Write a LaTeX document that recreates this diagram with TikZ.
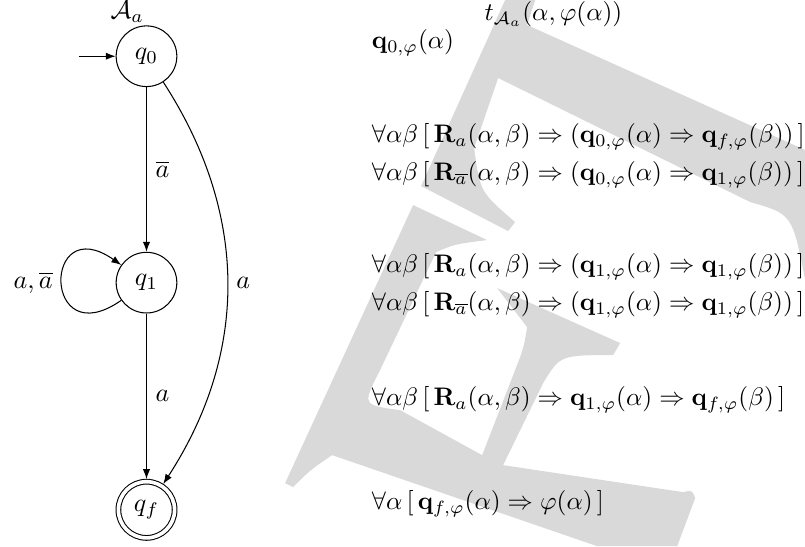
\documentclass[tikz,border=0pt]{standalone}
\usepackage{amsmath,amssymb}
\usetikzlibrary{arrows.meta, positioning}

\begin{document}
\begin{tikzpicture}[
    state/.style={circle, draw, minimum size=0.82cm, inner sep=0pt},
    final/.style={circle, draw, double, double distance=1.4pt, minimum size=0.76cm, inner sep=0pt, outer sep=1pt},
    arrow/.style={-{Latex[length=3.8pt, width=2.8pt]}},
    formula/.style={anchor=west, scale=0.975, transform shape},
    wmfill/.style={fill=black!15}
]
    \useasboundingbox (0,0) rectangle (10.88,-7.38);

    % Gray letter shapes in the background (pixel units)
    \begin{scope}[x=0.013514cm, y=-0.013514cm]
        \fill [wmfill] (505,0) -- (535,0) -- (527,25) -- (805,150) -- (805,280)
            .. controls (792,214) .. (750,202) -- (498,78) -- (474,148)
            .. controls (480,192) .. (515,222) -- (508,231) -- (421,186) -- cycle;
        \fill [wmfill] (413,205) -- (487,240) .. controls (455,244) .. (436,252)
            -- (380,370) .. controls (362,405) .. (400,410) -- (482,455)
            -- (520,357) .. controls (524,345) .. (527,327) -- (497,288) -- (620,343) -- (613,355)
            .. controls (560,355) .. (543,383) -- (503,465) -- (683,492)
            .. controls (692,490) .. (695,498) -- (677,546) -- (597,546) -- (332,455)
            .. controls (310,470) .. (293,487) -- (285,483) -- cycle;
    \end{scope}

    % Automaton
    \node (q0) [state] at (1.98,-0.76) {$q_0$};
    \node (q1) [state, on grid, below=3.06cm of q0] {$q_1$};
    \node (qf) [final, on grid, below=3.07cm of q1] {$q_f$};
    \node (aut) [anchor=south east, inner sep=0.8pt] at (q0.north) {$\mathcal{A}_a$};
    \coordinate [left=0.5cm of q0.west] (init);

    \draw [arrow] (init) -- (q0);
    \draw [arrow] (q0) -- node[right] {$\overline{a}$} (q1);
    \draw [arrow] (q1) to [out=215, in=145, looseness=7] node[left] {$a,\overline{a}$} (q1);
    \draw [arrow] (q1) -- node[right] {$a$} (qf);
    \draw [arrow] (q0) to [bend left=33] node[right] {$a$} (qf);

    % Formulas
    \node (tA) [scale=0.975, transform shape] at (7.48,-0.19) {$t_{\mathcal{A}_a}(\alpha,\varphi(\alpha))$};
    \node (q0f) [formula] at (4.906,-0.581) {$\mathbf{q}_{0,\varphi}(\alpha)$};

    \node (r1) [below=1.266cm of q0f.west, formula] {$\forall\alpha\beta\,[\,\mathbf{R}_a(\alpha,\beta) \Rightarrow (\mathbf{q}_{0,\varphi}(\alpha) \Rightarrow \mathbf{q}_{f,\varphi}(\beta))\,]$};
    \node (r2) [below=0.518cm of r1.west, formula] {$\forall\alpha\beta\,[\,\mathbf{R}_{\overline{a}}(\alpha,\beta) \Rightarrow (\mathbf{q}_{0,\varphi}(\alpha) \Rightarrow \mathbf{q}_{1,\varphi}(\beta))\,]$};

    \node (r3) [below=1.239cm of r2.west, formula] {$\forall\alpha\beta\,[\,\mathbf{R}_a(\alpha,\beta) \Rightarrow (\mathbf{q}_{1,\varphi}(\alpha) \Rightarrow \mathbf{q}_{1,\varphi}(\beta))\,]$};
    \node (r4) [below=0.518cm of r3.west, formula] {$\forall\alpha\beta\,[\,\mathbf{R}_{\overline{a}}(\alpha,\beta) \Rightarrow (\mathbf{q}_{1,\varphi}(\alpha) \Rightarrow \mathbf{q}_{1,\varphi}(\beta))\,]$};

    \node (r5) [below=1.284cm of r4.west, formula] {$\forall\alpha\beta\,[\,\mathbf{R}_a(\alpha,\beta) \Rightarrow \mathbf{q}_{1,\varphi}(\alpha) \Rightarrow \mathbf{q}_{f,\varphi}(\beta)\,]$};

    \node (r6) [below=1.399cm of r5.west, formula] {$\forall\alpha\,[\,\mathbf{q}_{f,\varphi}(\alpha) \Rightarrow \varphi(\alpha)\,]$};
\end{tikzpicture}
\end{document}
